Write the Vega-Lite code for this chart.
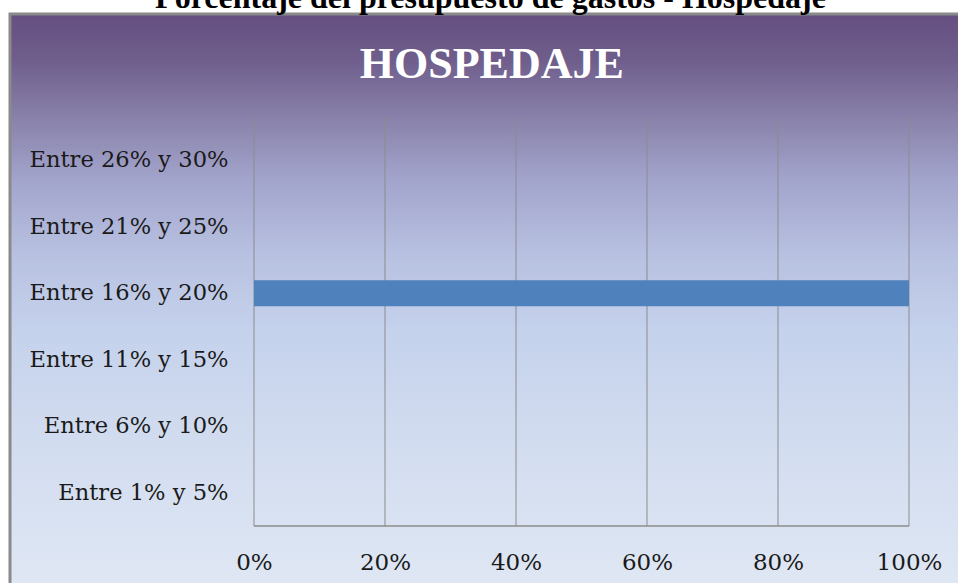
{
  "$schema": "https://vega.github.io/schema/vega-lite/v6.json",
  "width": 951,
  "height": 572,
  "autosize": "none",
  "padding": {"left": 10, "top": 14, "right": 0, "bottom": 0},
  "background": "white",
  "title": {
    "text": "Porcentaje del presupuesto de gastos - Hospedaje",
    "font": "Liberation Serif",
    "fontSize": 32,
    "fontWeight": "bold",
    "color": "#000000",
    "anchor": "middle",
    "baseline": "alphabetic",
    "frame": "group",
    "offset": 1,
    "dx": 5,
    "dy": 27
  },
  "view": {
    "stroke": "#8a8a8a",
    "strokeWidth": 3,
    "fill": {
      "gradient": "linear",
      "x1": 0, "y1": 0, "x2": 0, "y2": 1,
      "stops": [
        {"offset": 0, "color": "#654f80"},
        {"offset": 0.08, "color": "#6f5e8c"},
        {"offset": 0.186, "color": "#8a83ab"},
        {"offset": 0.29, "color": "#a2a4cc"},
        {"offset": 0.415, "color": "#b7c0e0"},
        {"offset": 0.555, "color": "#c5d2ec"},
        {"offset": 0.766, "color": "#d3ddf0"},
        {"offset": 1, "color": "#dfe7f4"}
      ]
    }
  },
  "datasets": {
    "rangos": [
      {"rango": "Entre 26% y 30%", "porcentaje": 0},
      {"rango": "Entre 21% y 25%", "porcentaje": 0},
      {"rango": "Entre 16% y 20%", "porcentaje": 100},
      {"rango": "Entre 11% y 15%", "porcentaje": 0},
      {"rango": "Entre 6% y 10%", "porcentaje": 0},
      {"rango": "Entre 1% y 5%", "porcentaje": 0}
    ],
    "marcas": [
      {"t": 0}, {"t": 20}, {"t": 40}, {"t": 60}, {"t": 80}, {"t": 100}
    ],
    "titulo": [
      {"texto": "HOSPEDAJE", "px": 36.3, "py": 1.095}
    ]
  },
  "resolve": {"scale": {"y": "independent"}, "axis": {"y": "independent"}},
  "layer": [
    {
      "layer": [
        {
          "data": {"name": "marcas"},
          "mark": {"type": "rule", "color": "#8c8c8c", "strokeWidth": 1},
          "encoding": {
            "x": {"field": "t", "type": "quantitative", "title": null},
            "y": {"datum": 0, "type": "quantitative", "title": null,
                  "scale": {"domain": [-0.1467, 1.2518], "nice": false, "zero": false},
                  "axis": null},
            "y2": {"datum": 1}
          }
        },
        {
          "data": {"name": "marcas"},
          "transform": [{"filter": "datum.t == 0"}],
          "mark": {"type": "rule", "color": "#8c8c8c", "strokeWidth": 1.5},
          "encoding": {
            "x": {"datum": 0, "type": "quantitative", "title": null},
            "x2": {"datum": 100},
            "y": {"datum": 0, "type": "quantitative", "title": null,
                  "scale": {"domain": [-0.1467, 1.2518], "nice": false, "zero": false},
                  "axis": null}
          }
        },
        {
          "data": {"name": "titulo"},
          "mark": {"type": "text", "font": "Liberation Serif", "fontSize": 44,
                   "fontWeight": "bold", "color": "#ffffff", "align": "center",
                   "baseline": "alphabetic"},
          "encoding": {
            "x": {"field": "px", "type": "quantitative", "title": null},
            "y": {"field": "py", "type": "quantitative", "title": null,
                  "scale": {"domain": [-0.1467, 1.2518], "nice": false, "zero": false},
                  "axis": null},
            "text": {"field": "texto"}
          }
        }
      ]
    },
    {
      "data": {"name": "rangos"},
      "mark": {"type": "bar", "color": "#4f81bd"},
      "encoding": {
        "y": {
          "field": "rango", "type": "nominal", "sort": null, "title": null,
          "scale": {"paddingInner": 0.61, "paddingOuter": 0.305, "range": [112.7, 512.3]},
          "axis": {
            "orient": "left", "offset": -218, "domain": false, "ticks": false,
            "labelPadding": 0, "labelFont": "DejaVu Serif", "labelFontSize": 22.6,
            "labelColor": "#1a1a1a", "labelLimit": 0, "grid": false
          }
        },
        "x": {
          "field": "porcentaje", "type": "quantitative", "title": null,
          "scale": {"domain": [-37.25, 107.94], "nice": false, "zero": false},
          "axis": {
            "values": [0, 20, 40, 60, 80, 100],
            "labelExpr": "datum.value + '%'",
            "orient": "bottom", "offset": -60, "domain": false, "ticks": false,
            "tickSize": 0, "grid": false, "labelPadding": 43,
            "labelBaseline": "alphabetic",
            "labelFont": "DejaVu Serif", "labelFontSize": 23, "labelColor": "#1a1a1a"
          }
        },
        "x2": {"datum": 0}
      }
    }
  ]
}
